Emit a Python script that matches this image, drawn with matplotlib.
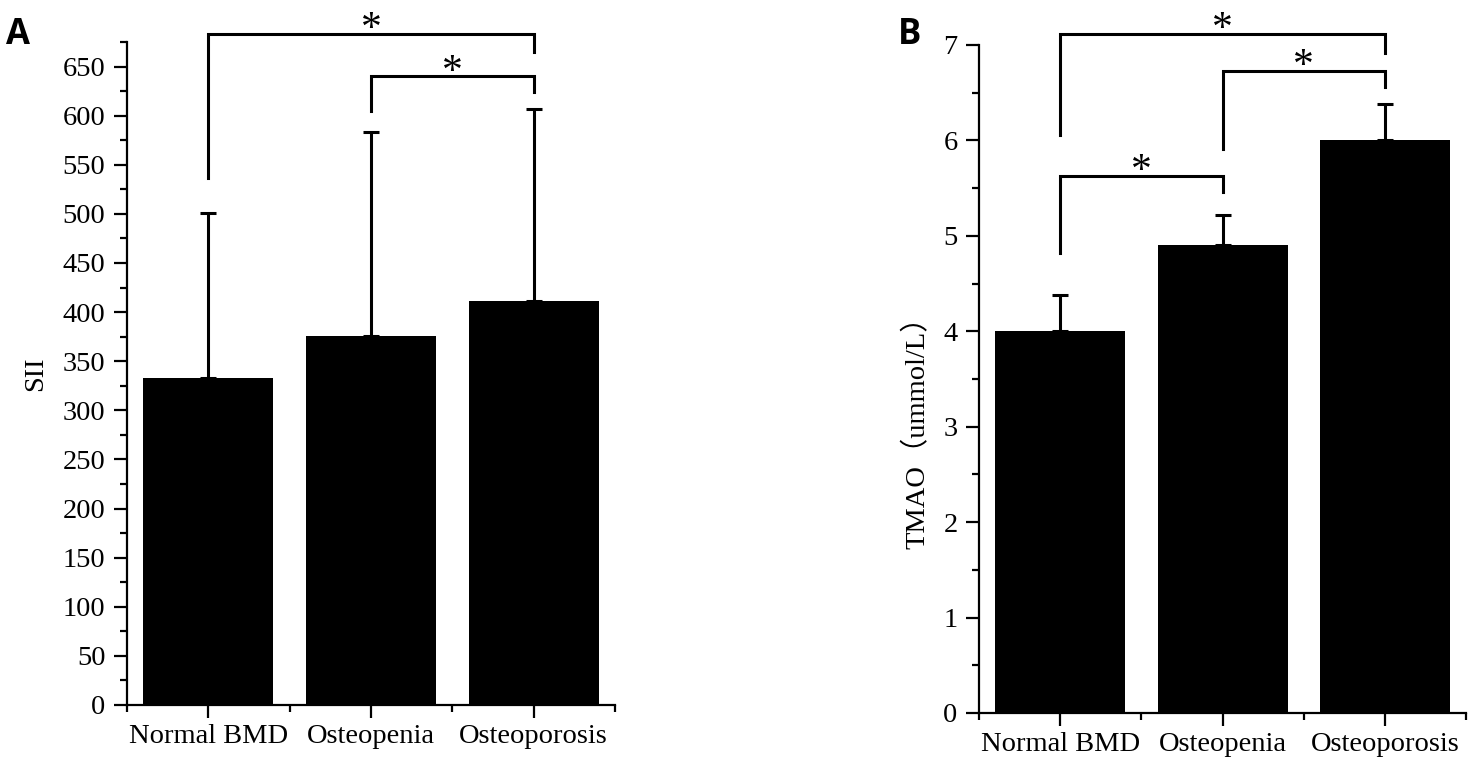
import matplotlib
matplotlib.use("Agg")
import matplotlib.pyplot as plt
from matplotlib.ticker import MultipleLocator

plt.rcParams['font.family'] = ['Liberation Serif', 'Noto Sans CJK SC', 'DejaVu Sans']

groups = ['Normal BMD', 'Osteopenia', 'Osteoporosis']

# panel A: SII
sii_mean = [333, 376, 411]
sii_sd = [168, 207, 196]
# panel B: TMAO
tmao_mean = [4.0, 4.9, 6.0]
tmao_sd = [0.38, 0.32, 0.38]

# brackets: (left group, right group, top, left leg end, right leg end)
sii_brackets = [(0, 2, 683.5, 536, 665), (1, 2, 640, 605, 624.5)]
tmao_brackets = [(0, 2, 7.115, 6.06, 6.92), (1, 2, 6.73, 5.91, 6.56), (0, 1, 5.63, 4.82, 5.46)]
star_gap_a = 4
star_gap_b = 0.04

fig = plt.figure(figsize=(14.76, 7.77), dpi=100)
axA = fig.add_axes([0.0860, 0.0927, 0.3306, 0.8533])
axB = fig.add_axes([0.6633, 0.0824, 0.3300, 0.8597])


def draw_panel(ax, means, sds, ylim, major, minor, brackets, gap):
    x = list(range(len(groups)))
    ax.bar(x, means, width=0.8, color='black', zorder=2)
    ax.errorbar(x, means, yerr=[[0] * len(sds), sds], fmt='none', ecolor='black',
                elinewidth=2.2, capsize=6, capthick=2.2, zorder=3)
    ax.set_xlim(-0.5, 2.5)
    ax.set_ylim(*ylim)
    ax.set_xticks(x)
    ax.set_xticklabels(groups, fontsize=20.5)
    ax.set_xticks([-0.5, 0.5, 1.5, 2.5], minor=True)
    ax.yaxis.set_major_locator(MultipleLocator(major))
    ax.yaxis.set_minor_locator(MultipleLocator(minor))
    for s in ['top', 'right']:
        ax.spines[s].set_visible(False)
    for s in ['left', 'bottom']:
        ax.spines[s].set_linewidth(1.6)
    ax.tick_params(which='major', length=9.5, width=1.6, labelsize=20.5, direction='out')
    ax.tick_params(which='minor', length=5, width=1.6, direction='out')
    ax.tick_params(axis='y', which='major', pad=6)
    ax.tick_params(axis='x', which='major', pad=4)
    for g1, g2, top, l1, l2 in brackets:
        ax.plot([g1, g1, g2, g2], [l1, top, top, l2], color='black', lw=2.2,
                clip_on=False, solid_joinstyle='miter', zorder=4)
        ax.text((g1 + g2) / 2, top + gap, '*', ha='center', va='center',
                fontsize=30, clip_on=False)


draw_panel(axA, sii_mean, sii_sd, (0, 675), 50, 25, sii_brackets, star_gap_a)
draw_panel(axB, tmao_mean, tmao_sd, (0, 7), 1, 0.5, tmao_brackets, star_gap_b)

axA.set_ylabel('SII', fontsize=20.5)
axA.yaxis.set_label_coords(-0.162, 0.5)
axB.set_ylabel('TMAO（ummol/L）', fontsize=20.5)
axB.yaxis.set_label_coords(-0.10, 0.43)

fig.text(0.004, 0.955, 'A', fontsize=25, fontweight='bold', family='Open Sans', va='center')
fig.text(0.608, 0.955, 'B', fontsize=25, fontweight='bold', family='Open Sans', va='center')

fig.savefig('out.png', dpi=100)
